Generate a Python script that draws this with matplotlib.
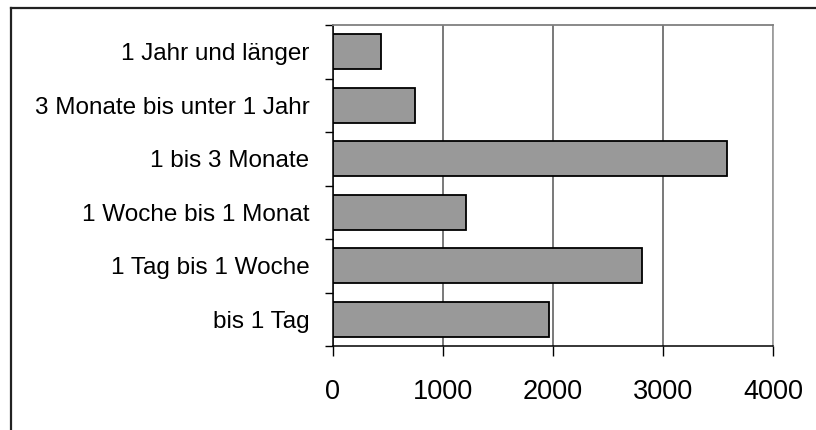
import matplotlib
matplotlib.use("Agg")
import matplotlib.pyplot as plt
from matplotlib.lines import Line2D
import numpy as np

categories = ["bis 1 Tag", "1 Tag bis 1 Woche", "1 Woche bis 1 Monat",
              "1 bis 3 Monate", "3 Monate bis unter 1 Jahr", "1 Jahr und länger"]
values = [1965, 2810, 1210, 3580, 745, 440]
xticks = [0, 1000, 2000, 3000, 4000]

plt.rcParams['font.family'] = ['Liberation Sans', 'DejaVu Sans']

fig = plt.figure(figsize=(8.16, 4.30), dpi=100)
ax = fig.add_axes([333/816, 1-346/430, 440/816, 321/430])

y = np.arange(len(categories))
ax.barh(y, values, height=0.65, color='#999999', edgecolor='black', linewidth=1.3, zorder=3)

ax.set_xlim(0, 4000)
ax.set_ylim(-0.5, len(categories) - 0.5)

ax.set_xticks(xticks)
ax.set_xticklabels([str(v) for v in xticks], fontsize=19.5)
ax.tick_params(axis='x', direction='out', length=7.5, width=1, color='black', pad=16)

ax.set_yticks(y)
ax.set_yticklabels(categories, fontsize=17.5)
ax.set_yticks(np.arange(-0.5, len(categories)), minor=True)
ax.tick_params(axis='y', which='major', length=0, pad=17)
ax.tick_params(axis='y', which='minor', direction='out', length=6, width=1, color='black')

ax.xaxis.grid(True, color='#555555', linewidth=1.1, zorder=0)
ax.set_axisbelow(True)

ax.spines['left'].set_color('black')
ax.spines['bottom'].set_color('black')
ax.spines['left'].set_linewidth(1.1)
ax.spines['bottom'].set_linewidth(1.1)
ax.spines['top'].set_color('#808080')
ax.spines['right'].set_color('#a0a0a0')
ax.spines['top'].set_linewidth(1.3)
ax.spines['right'].set_linewidth(1.3)

# figure border (only top and left visible)
fx = 10.5/816
fy = 1 - 8/430
fig.add_artist(Line2D([fx, fx], [0, fy], transform=fig.transFigure, color='#222222', linewidth=1.6))
fig.add_artist(Line2D([fx, 1], [fy, fy], transform=fig.transFigure, color='#222222', linewidth=1.6))

fig.savefig("out.png", dpi=100)
